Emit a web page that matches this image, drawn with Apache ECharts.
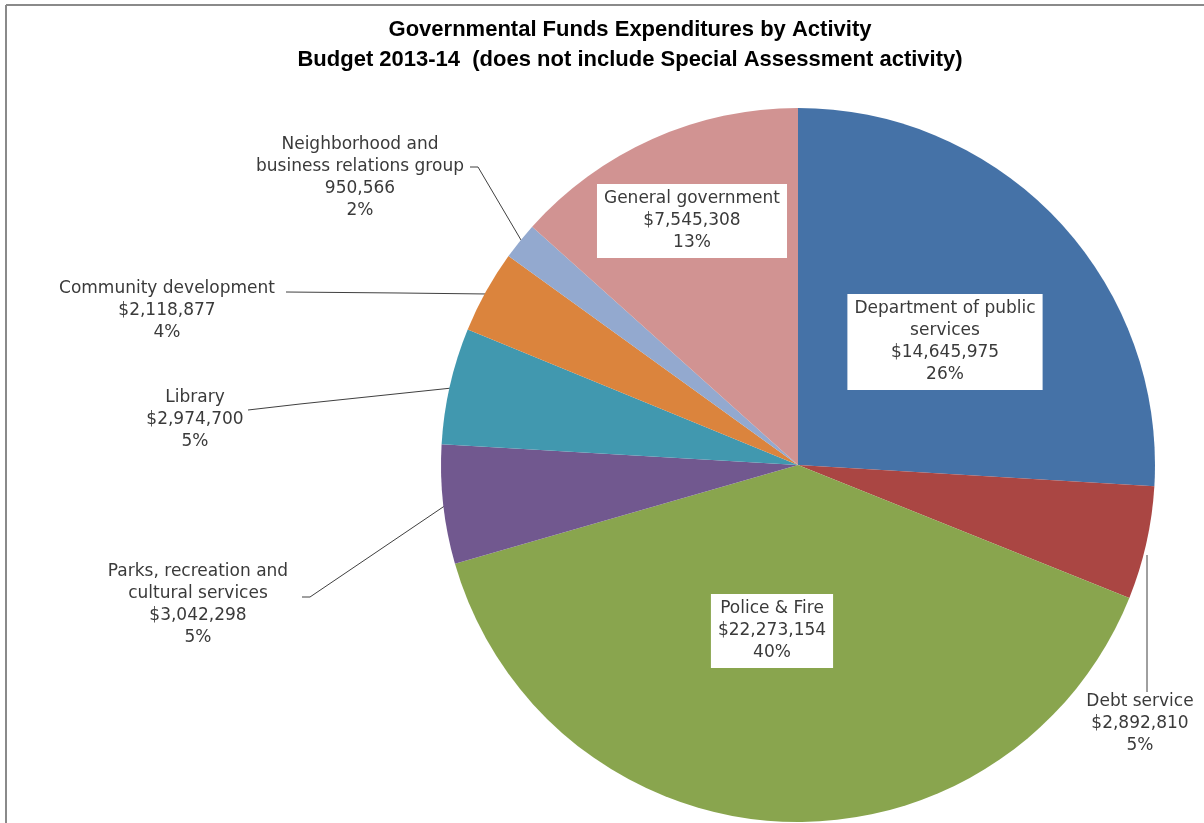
<!DOCTYPE html>
<html>
<head>
<meta charset="utf-8">
<script src="https://cdn.jsdelivr.net/npm/echarts@6/dist/echarts.min.js"></script>
<style>
  html, body { margin: 0; padding: 0; background: #fff; }
  #main { width: 1204px; height: 823px; }
</style>
</head>
<body>
<div id="main"></div>
<script>
// data, clockwise from 12 o'clock
var categories = [
  'Department of public\nservices',
  'Debt service',
  'Police & Fire',
  'Parks, recreation and\ncultural services',
  'Library',
  'Community development',
  'Neighborhood and\nbusiness relations group',
  'General government'
];
var amounts = [14645975, 2892810, 22273154, 3042298, 2974700, 2118877, 950566, 7545308];
var valuePrefix = ['$', '$', '$', '$', '$', '$', '', '$'];
var sliceColors = ['#4572a7', '#aa4643', '#89a54e', '#71588f', '#4198af', '#db843d', '#93a9cf', '#d19392'];
var insideIdx = [0, 2, 7];

// where each label sits (centre of the text block) and its leader line
var labelPos = [
  [945, 342], [1140, 724], [772, 631], [198, 605],
  [195, 420], [167, 311], [360, 178], [692, 221]
];
var leaderLines = {
  1: [[1147, 692], [1147, 620], [1147, 555]],
  3: [[302, 597], [310, 597], [446, 505]],
  4: [[248, 410], [300, 404], [452, 388]],
  5: [[286, 292], [400, 293], [488, 294]],
  6: [[470, 167], [478, 167], [521, 240]]
};

var myChart = echarts.init(document.getElementById('main'));

var pieData = categories.map(function (c, i) {
  var item = { name: c, value: amounts[i], itemStyle: { color: sliceColors[i] } };
  if (insideIdx.indexOf(i) >= 0) {
    item.label = { position: 'inside', backgroundColor: '#fff', padding: [5, 7, 3, 7] };
    item.labelLine = { show: false };
  }
  return item;
});

var option = {
  backgroundColor: '#fff',
  animation: false,
  graphic: [
    { type: 'line', shape: { x1: 6, y1: 5, x2: 1204, y2: 5 }, style: { stroke: '#8a8a8a', lineWidth: 2 } },
    { type: 'line', shape: { x1: 6, y1: 5, x2: 6, y2: 823 }, style: { stroke: '#8a8a8a', lineWidth: 2 } },
    {
      type: 'text', x: 630, y: 30,
      style: {
        text: 'Governmental Funds Expenditures by Activity',
        font: 'bold 22px "Liberation Sans", Arial, sans-serif',
        fill: '#000', textAlign: 'center', textVerticalAlign: 'middle'
      }
    },
    {
      type: 'text', x: 630, y: 60,
      style: {
        text: 'Budget 2013-14  (does not include Special Assessment activity)',
        font: 'bold 22px "Liberation Sans", Arial, sans-serif',
        fill: '#000', textAlign: 'center', textVerticalAlign: 'middle'
      }
    }
  ],
  series: [{
    type: 'pie',
    center: [798, 465],
    radius: 357,
    startAngle: 90,
    clockwise: true,
    percentPrecision: 0,
    avoidLabelOverlap: false,
    itemStyle: { borderWidth: 0 },
    label: {
      show: true,
      position: 'outside',
      color: '#3a3a3a',
      fontFamily: '"DejaVu Sans", sans-serif',
      fontSize: 17,
      lineHeight: 22,
      align: 'center',
      formatter: function (p) {
        return p.name + '\n' + valuePrefix[p.dataIndex] +
          p.value.toLocaleString('en-US') + '\n' + p.percent + '%';
      }
    },
    labelLine: {
      show: true,
      length: 20,
      length2: 20,
      smooth: false,
      lineStyle: { color: '#404040', width: 1 }
    },
    labelLayout: function (params) {
      var i = params.dataIndex;
      var out = { x: labelPos[i][0], y: labelPos[i][1], align: 'center', verticalAlign: 'middle' };
      if (leaderLines[i]) out.labelLinePoints = leaderLines[i];
      return out;
    },
    data: pieData
  }]
};

myChart.setOption(option);
</script>
</body>
</html>
